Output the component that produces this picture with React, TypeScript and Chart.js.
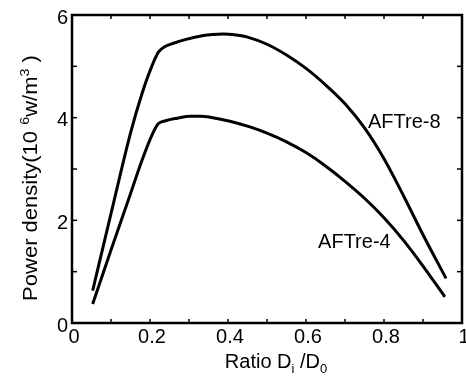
import React, { useEffect, useRef } from 'react';
import { Chart, registerables } from 'chart.js';

Chart.register(...registerables);

// ---- data ----
const xTickLabels = ['0', '0.2', '0.4', '0.6', '0.8', '1'];
const yTickLabels = ['0', '2', '4', '6'];
const seriesNames = ['AFTre-8', 'AFTre-4'];

const ratio8 = [0.053, 0.10, 0.15, 0.18, 0.204, 0.222, 0.24, 0.26, 0.29, 0.337, 0.36, 0.388, 0.42, 0.45, 0.5, 0.55, 0.6, 0.65, 0.7, 0.75, 0.8, 0.85, 0.9, 0.959];
const power8 = [0.63, 2.13, 3.70, 4.48, 4.99, 5.28, 5.39, 5.45, 5.52, 5.60, 5.62, 5.63, 5.61, 5.57, 5.43, 5.22, 4.96, 4.64, 4.27, 3.80, 3.20, 2.48, 1.72, 0.87];

const ratio4 = [0.053, 0.10, 0.15, 0.18, 0.205, 0.221, 0.24, 0.27, 0.303, 0.33, 0.354, 0.405, 0.456, 0.5, 0.55, 0.6, 0.65, 0.7, 0.75, 0.8, 0.85, 0.9, 0.956];
const power4 = [0.37, 1.42, 2.52, 3.18, 3.66, 3.88, 3.94, 3.99, 4.03, 4.03, 4.01, 3.93, 3.82, 3.70, 3.53, 3.32, 3.06, 2.76, 2.43, 2.05, 1.61, 1.11, 0.51];

// label anchors in data units (left edge x, vertical centre y)
const labelX = [0.759, 0.631];
const labelY = [3.9, 1.56];

const FONT = '"Liberation Sans", Arial, Helvetica, sans-serif';

const framePlugin = {
  id: 'framePlugin',
  afterDatasetsDraw(chart: any) {
    const { ctx, chartArea: a, scales } = chart;
    const xs = scales.x;
    const ys = scales.y;
    ctx.save();
    ctx.strokeStyle = '#000';
    ctx.lineWidth = 2.5;
    ctx.strokeRect(a.left, a.top, a.right - a.left, a.bottom - a.top);
    ctx.lineWidth = 1.5;
    const seg = (x1: number, y1: number, x2: number, y2: number) => {
      ctx.beginPath();
      ctx.moveTo(x1, y1);
      ctx.lineTo(x2, y2);
      ctx.stroke();
    };
    for (let i = 1; i < 10; i++) {
      const px = xs.getPixelForValue(i / 10);
      seg(px, a.bottom, px, a.bottom - 4);
      seg(px, a.top, px, a.top + 4);
    }
    for (let j = 1; j < 6; j++) {
      const py = ys.getPixelForValue(j);
      seg(a.left, py, a.left + 5, py);
      seg(a.right, py, a.right - 5, py);
    }

    // curve labels
    ctx.fillStyle = '#000';
    ctx.font = '20px ' + FONT;
    ctx.textAlign = 'left';
    ctx.textBaseline = 'middle';
    seriesNames.forEach((n, i) => {
      ctx.fillText(n, xs.getPixelForValue(labelX[i]), ys.getPixelForValue(labelY[i]));
    });

    // x-axis title with subscripts
    const big = '20px ' + FONT;
    const small = '13px ' + FONT;
    ctx.textBaseline = 'alphabetic';
    const xParts: [string, string, number][] = [
      ['Ratio D', big, 0],
      ['i', small, 5],
      [' /D', big, 0],
      ['0', small, 5],
    ];
    let total = 0;
    xParts.forEach(([t, f]) => { ctx.font = f; total += ctx.measureText(t).width; });
    let cx = (a.left + a.right) / 2 + 9 - total / 2;
    const baseY = 368;
    xParts.forEach(([t, f, dy]) => {
      ctx.font = f;
      ctx.fillText(t, cx, baseY + dy);
      cx += ctx.measureText(t).width;
    });

    // y-axis title with superscripts
    ctx.save();
    ctx.translate(30, 178);
    ctx.rotate(-Math.PI / 2);
    ctx.scale(1.1, 1);
    const yParts: [string, string, number][] = [
      ['Power density(10 ', big, 0],
      ['6', small, -8],
      ['w/m', big, 0],
      ['3', small, -8],
      [' )', big, 0],
    ];
    total = 0;
    yParts.forEach(([t, f]) => { ctx.font = f; total += ctx.measureText(t).width; });
    let px = -total / 2;
    yParts.forEach(([t, f, dy]) => {
      ctx.font = f;
      ctx.fillText(t, px, 7 + dy);
      px += ctx.measureText(t).width;
    });
    ctx.restore();

    ctx.restore();
  },
};

export default function App() {
  const ref = useRef<HTMLCanvasElement | null>(null);

  useEffect(() => {
    document.body.style.margin = '0';
    const canvas = ref.current;
    if (!canvas) return;
    const chart = new Chart(canvas, {
      type: 'scatter',
      data: {
        datasets: [
          {
            label: seriesNames[0],
            data: ratio8.map((x, i) => ({ x, y: power8[i] })),
            showLine: true,
            borderColor: '#000',
            borderWidth: 3,
            pointRadius: 0,
            cubicInterpolationMode: 'monotone',
          },
          {
            label: seriesNames[1],
            data: ratio4.map((x, i) => ({ x, y: power4[i] })),
            showLine: true,
            borderColor: '#000',
            borderWidth: 3,
            pointRadius: 0,
            cubicInterpolationMode: 'monotone',
          },
        ],
      },
      options: {
        responsive: false,
        animation: false,
        layout: { padding: { top: 15, right: 4, left: 0, bottom: 0 } },
        plugins: {
          legend: { display: false },
          tooltip: { enabled: false },
        },
        scales: {
          x: {
            type: 'linear',
            min: 0,
            max: 1,
            grid: { display: false, drawTicks: false },
            border: { display: false },
            ticks: {
              stepSize: 0.2,
              padding: 2,
              labelOffset: 2,
              color: '#000',
              maxRotation: 0,
              autoSkip: false,
              font: { family: FONT, size: 20 },
              callback: (_v: any, i: number) => xTickLabels[i],
            },
            afterFit: (s: any) => {
              s.height = 56;
              s.paddingLeft = 0;
              s.paddingRight = 0;
            },
          },
          y: {
            type: 'linear',
            min: 0,
            max: 6,
            grid: { display: false, drawTicks: false },
            border: { display: false },
            ticks: {
              stepSize: 2,
              padding: 4,
              labelOffset: 3,
              color: '#000',
              autoSkip: false,
              font: { family: FONT, size: 20 },
              callback: (_v: any, i: number) => yTickLabels[i],
            },
            afterFit: (s: any) => {
              s.width = 72;
              s.paddingTop = 0;
              s.paddingBottom = 0;
            },
          },
        },
      },
      plugins: [framePlugin],
    } as any);
    return () => chart.destroy();
  }, []);

  return (
    <div style={{ position: 'absolute', left: 0, top: 0, width: 466, height: 379, background: '#fff' }}>
      <canvas ref={ref} width={466} height={379} style={{ display: 'block' }} />
    </div>
  );
}
